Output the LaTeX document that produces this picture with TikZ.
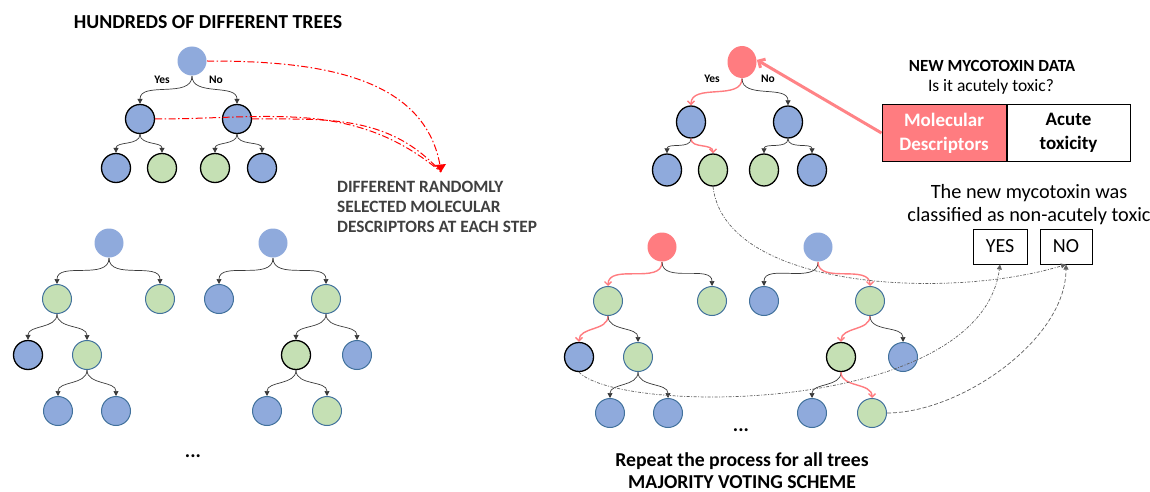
\documentclass[tikz,border=0pt]{standalone}
\usepackage{fontspec}
\setmainfont{Carlito}
\usetikzlibrary{arrows.meta,shapes.geometric}
\definecolor{nblue}{HTML}{8FAADC}
\definecolor{ngreen}{HTML}{C5E0B4}
\definecolor{nborder}{HTML}{41719C}
\definecolor{coral}{HTML}{FF7C80}
\definecolor{edgec}{HTML}{3A3A3A}
\definecolor{darktext}{HTML}{404040}
\definecolor{conn}{HTML}{606060}
\newcommand\tedge[3][ed]{\draw[#1] (#2.south) to[out=-90,in=90] (#3.north);}
\begin{document}
\begin{tikzpicture}[x=1pt,y=1pt,
  tn/.style={circle, minimum size=29pt, inner sep=0pt, line width=1pt, draw=nborder},
  el/.style={ellipse, minimum width=29pt, minimum height=32pt, inner sep=0pt, line width=1pt, draw=nborder},
  bl/.style={fill=nblue},
  gr/.style={fill=ngreen},
  rd/.style={fill=coral, draw=none},
  kb/.style={draw=black, line width=1.3pt},
  nb/.style={draw=none},
  ed/.style={draw=edgec, line width=0.7pt, -{Triangle[length=5pt,width=5pt]}},
  rdg/.style={draw=coral, line width=1.4pt, -{Straight Barb[length=3.5pt,width=7pt]}},
  lbl/.style={font=\bfseries\fontsize{11.5}{12}\selectfont, inner sep=0pt},
  reddash/.style={draw=red, line width=1pt, dash pattern=on 7pt off 2.5pt on 1.5pt off 2.5pt},
  gconn/.style={draw=conn, line width=0.7pt, dash pattern=on 3pt off 1.5pt on 1pt off 1.5pt, -{Triangle[length=5pt,width=5pt]}},
  gconnb/.style={draw=conn, line width=0.7pt, dash pattern=on 4pt off 2pt, -{Triangle[length=5pt,width=5pt]}},
  boxn/.style={draw=black, line width=1pt, minimum height=56pt, inner sep=0pt, align=center}
]
\useasboundingbox (0,0) rectangle (1150,-492);

% ---------- Tree A (top left) ----------
\node[font=\bfseries\fontsize{19.8}{22}\selectfont] (titleA) at (208,-22) {HUNDREDS OF DIFFERENT TREES};
\node[tn,bl,nb] (a0) at (192,-61) {};
\node[tn,bl,kb] (a1) at (140,-119) {};
\node[tn,bl,kb] (a2) at (237,-119) {};
\node[tn,bl,kb] (a3) at (116,-168) {};
\node[tn,gr,kb] (a4) at (162,-168) {};
\node[tn,gr,kb] (a5) at (215,-168) {};
\node[tn,bl,kb] (a6) at (262,-168) {};
\tedge{a0}{a1}\tedge{a0}{a2}\tedge{a1}{a3}\tedge{a1}{a4}\tedge{a2}{a5}\tedge{a2}{a6}
\node[lbl] (yesA) at (162,-80) {Yes};
\node[lbl] (noA) at (216,-80) {No};

\coordinate (tgt) at (441,-172);
\draw[reddash] (a0.east) to[out=0,in=97] (tgt);
\draw[reddash] (a1.east) to[out=0,in=140] (tgt);
\draw[reddash] (a2.east) to[out=0,in=132] (tgt);
\fill[red] (tgt) -- ++(-6,7) -- ++(11,1) -- cycle;

\node[font=\bfseries\fontsize{17.3}{20}\selectfont, text=darktext, align=left, anchor=north west, inner sep=0pt] (desc) at (337,-181)
  {DIFFERENT RANDOMLY\\SELECTED MOLECULAR\\DESCRIPTORS AT EACH STEP};

% ---------- Tree B ----------
\node[tn,bl,nb] (b0) at (109,-243) {};
\node[tn,gr] (b1) at (57,-299) {};
\node[tn,gr] (b2) at (160,-299) {};
\node[tn,bl,kb] (b3) at (28,-355) {};
\node[tn,gr] (b4) at (87,-355) {};
\node[tn,bl] (b5) at (58,-411) {};
\node[tn,bl] (b6) at (116,-411) {};
\tedge{b0}{b1}\tedge{b0}{b2}\tedge{b1}{b3}\tedge{b1}{b4}\tedge{b4}{b5}\tedge{b4}{b6}

% ---------- Tree C ----------
\node[tn,bl,nb] (c0) at (273,-243) {};
\node[tn,bl] (c1) at (219,-299) {};
\node[tn,gr] (c2) at (326,-299) {};
\node[tn,gr,kb] (c3) at (296,-355) {};
\node[tn,bl] (c4) at (357,-355) {};
\node[tn,bl] (c5) at (267,-411) {};
\node[tn,gr] (c6) at (327,-411) {};
\tedge{c0}{c1}\tedge{c0}{c2}\tedge{c2}{c3}\tedge{c2}{c4}\tedge{c3}{c5}\tedge{c3}{c6}
\node[font=\bfseries\fontsize{20}{20}\selectfont] (dotsL) at (193,-456) {...};

% ---------- Tree R (top right) ----------
\node[el,rd] (r0) at (742,-62) {};
\node[el,bl,kb] (r1) at (691,-122) {};
\node[el,bl,kb] (r2) at (788,-122) {};
\node[el,bl,kb] (r3) at (667,-170) {};
\node[el,gr,kb] (r4) at (713,-170) {};
\node[el,gr,kb] (r5) at (764,-170) {};
\node[el,bl,kb] (r6) at (812,-170) {};
\tedge[rdg]{r0}{r1}\tedge{r0}{r2}\tedge{r1}{r3}\tedge[rdg]{r1}{r4}\tedge{r2}{r5}\tedge{r2}{r6}
\node[lbl] (yesR) at (712,-79) {Yes};
\node[lbl] (noR) at (768,-79) {No};

% ---------- New data ----------
\node[font=\bfseries\fontsize{17}{20}\selectfont] (newdata) at (992,-66) {NEW MYCOTOXIN DATA};
\node[font=\fontsize{17.5}{20}\selectfont] (question) at (991,-87) {Is it acutely toxic?};
\node[boxn, fill=coral, text=white, minimum width=124pt, font=\bfseries\fontsize{19}{24}\selectfont] (md) at (944,-133) {Molecular\\Descriptors};
\node[boxn, fill=white, minimum width=123pt, font=\bfseries\fontsize{19}{24}\selectfont, anchor=west] (at) at (md.east) {Acute\\toxicity};
\draw[draw=coral!95!white, line width=3pt, -{Straight Barb[length=5pt,width=10pt]}] (md.west) -- (r0.8);

\node[font=\fontsize{20.3}{23}\selectfont, align=center] (result) at (1029,-204.5) {The new mycotoxin was\\classified as non-acutely toxic};
\node[draw=black, line width=1pt, minimum width=54pt, minimum height=35pt, inner sep=0pt, font=\fontsize{20}{20}\selectfont] (yes) at (1000,-246.5) {YES};
\node[draw=black, line width=1pt, minimum width=52pt, minimum height=35pt, inner sep=0pt, font=\fontsize{20}{20}\selectfont] (no) at (1066,-246.5) {NO};

% ---------- Tree D ----------
\node[tn,rd] (d0) at (662,-247) {};
\node[tn,gr] (d1) at (608,-301) {};
\node[tn,gr] (d2) at (712,-301) {};
\node[tn,bl,kb] (d3) at (579,-357) {};
\node[tn,gr] (d4) at (638,-357) {};
\node[tn,bl] (d5) at (610,-413) {};
\node[tn,bl] (d6) at (668,-413) {};
\tedge[rdg]{d0}{d1}\tedge{d0}{d2}\tedge[rdg]{d1}{d3}\tedge{d1}{d4}\tedge{d4}{d5}\tedge{d4}{d6}

% ---------- Tree E ----------
\node[tn,bl,nb] (e0) at (818,-247) {};
\node[tn,bl] (e1) at (764,-301) {};
\node[tn,gr] (e2) at (870,-301) {};
\node[tn,gr,kb] (e3) at (841,-357) {};
\node[tn,bl] (e4) at (903,-357) {};
\node[tn,bl] (e5) at (812,-413) {};
\node[tn,gr] (e6) at (872,-413) {};
\tedge{e0}{e1}\tedge[rdg]{e0}{e2}\tedge[rdg]{e2}{e3}\tedge{e2}{e4}\tedge{e3}{e5}\tedge[rdg]{e3}{e6}
\node[font=\bfseries\fontsize{20}{20}\selectfont] (dotsR) at (741,-430) {...};
\node[font=\bfseries\fontsize{19.7}{22}\selectfont, align=center] (repeat) at (742,-471) {Repeat the process for all trees\\MAJORITY VOTING SCHEME};

% ---------- voting connectors ----------
\draw[gconn] (r4.south) .. controls (725,-290) and (950,-300) .. (no.south);
\draw[gconn] (d3.south) .. controls (620,-415) and (980,-415) .. (yes.south);
\draw[gconnb] (e6.east) .. controls (960,-413) and (1066,-340) .. (no.south);
\end{tikzpicture}
\end{document}
